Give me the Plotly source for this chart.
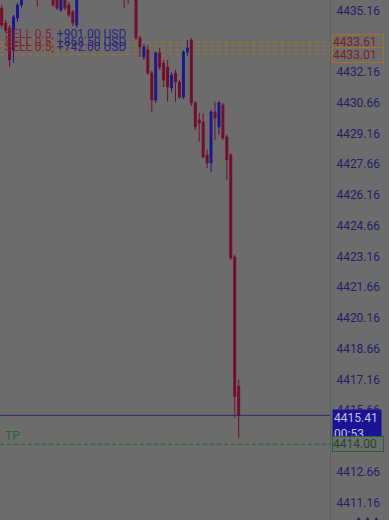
import plotly.graph_objects as go

# OHLC bars, oldest first. Bars that traded above the visible window are kept
# so the series stays continuous; the y range simply clips them.
opens = [4435.28, 4434.55, 4434.31, 4433.23, 4434.79, 4435.43, 4436.10, 4436.70, 4436.30, 4435.90,
         4435.75, 4436.40, 4436.80, 4436.10, 4435.80, 4435.18, 4435.85, 4435.43, 4435.09, 4434.45,
         4435.90, 4436.50, 4437.10, 4436.80, 4437.50, 4437.20, 4436.90, 4437.30, 4436.70, 4436.30,
         4436.60, 4436.20, 4435.95, 4435.75, 4436.20, 4433.82, 4432.89, 4433.23, 4432.11, 4430.79,
         4433.09, 4432.60, 4432.40, 4431.38, 4432.11, 4431.67, 4430.94, 4433.14, 4433.72, 4430.65,
         4429.82, 4429.72, 4428.11, 4427.72, 4430.21, 4429.48, 4430.55, 4428.99, 4428.11, 4423.14,
         4416.82]
highs = [4435.43, 4434.70, 4434.45, 4434.94, 4435.53, 4436.25, 4436.90, 4436.95, 4436.50, 4436.10,
         4436.55, 4437.00, 4436.90, 4436.20, 4435.95, 4436.00, 4436.00, 4435.57, 4435.18, 4436.10,
         4436.70, 4437.30, 4437.40, 4437.70, 4437.80, 4437.40, 4437.50, 4437.40, 4436.90, 4436.80,
         4436.70, 4436.30, 4436.10, 4436.30, 4436.30, 4433.92, 4433.53, 4433.48, 4432.21, 4433.18,
         4433.33, 4432.75, 4432.75, 4432.16, 4432.26, 4431.77, 4433.23, 4433.72, 4433.82, 4430.75,
         4430.16, 4430.16, 4428.36, 4430.31, 4430.70, 4430.75, 4430.65, 4429.09, 4428.21, 4423.23,
         4417.16]
lows = [4434.31, 4434.06, 4432.40, 4432.60, 4434.60, 4435.28, 4435.95, 4436.10, 4435.75, 4435.33,
        4435.70, 4436.20, 4435.90, 4435.33, 4435.18, 4435.09, 4435.18, 4434.84, 4434.40, 4434.31,
        4435.80, 4436.40, 4436.60, 4436.70, 4437.00, 4436.70, 4436.80, 4436.50, 4436.10, 4436.00,
        4435.90, 4435.28, 4435.48, 4435.72, 4433.72, 4432.89, 4432.75, 4432.01, 4430.21, 4430.65,
        4432.26, 4431.43, 4430.70, 4431.18, 4430.70, 4430.84, 4430.84, 4432.94, 4430.50, 4429.33,
        4428.75, 4427.97, 4427.48, 4427.28, 4428.84, 4429.09, 4428.84, 4426.89, 4422.99, 4415.28,
        4414.31]
closes = [4434.45, 4434.21, 4432.75, 4434.84, 4435.43, 4436.10, 4436.70, 4436.30, 4435.90, 4435.72,
          4436.40, 4436.80, 4436.10, 4435.43, 4435.28, 4435.85, 4435.28, 4434.94, 4434.55, 4435.90,
          4436.50, 4437.10, 4436.80, 4437.50, 4437.20, 4436.90, 4437.30, 4436.70, 4436.30, 4436.60,
          4436.20, 4435.85, 4435.75, 4436.20, 4433.82, 4433.38, 4433.38, 4432.11, 4430.79, 4433.09,
          4432.40, 4431.77, 4431.43, 4432.01, 4431.67, 4430.94, 4433.14, 4433.33, 4430.65, 4429.48,
          4429.67, 4428.01, 4427.72, 4430.21, 4429.92, 4430.65, 4428.94, 4427.87, 4423.09, 4416.33,
          4415.41]
bar_index = list(range(len(opens)))

# Open SELL positions: entry levels and their floating profit labels
position_prices = [4433.61, 4433.45, 4433.23, 4433.01]
position_labels = ["SELL 0.5,", "SELL 0.5,", "SELL 0.5,", "SELL 0.5,"]
position_profit = ["+901.00 USD", "", "+868.50 USD", "+742.00 USD"]
entry_tags = [4433.61, 4433.01]

take_profit = 4414.00
current_price = 4415.41
countdown = "00:53"

axis_ticks = [4435.16, 4432.16, 4430.66, 4429.16, 4427.66, 4426.16, 4424.66, 4423.16,
              4421.66, 4420.16, 4418.66, 4417.16, 4415.66, 4412.66, 4411.16]

# Palette
BG = "rgb(108,108,108)"
RED = "rgb(118,12,44)"
BLUE = "rgb(26,24,146)"
NAVY = "rgb(38,32,104)"
ORANGE = "rgb(166,112,36)"
GOLD = "rgb(150,124,48)"
GREEN = "rgb(34,104,52)"
FONT = "Roboto"

fig = go.Figure()
fig.add_trace(go.Candlestick(
    x=bar_index, open=opens, high=highs, low=lows, close=closes,
    increasing=dict(line=dict(color=BLUE, width=1), fillcolor=BLUE),
    decreasing=dict(line=dict(color=RED, width=1), fillcolor=RED),
    whiskerwidth=0, hoverinfo="skip", showlegend=False,
))

shapes = []
line_colors = [ORANGE, GOLD, GOLD, ORANGE]
for price, col in zip(position_prices, line_colors):
    shapes.append(dict(type="line", xref="paper", x0=0, x1=1, yref="y", y0=price, y1=price,
                       line=dict(color=col, width=1, dash="4px,3px"), layer="below"))
shapes.append(dict(type="line", xref="paper", x0=0, x1=1, yref="y", y0=current_price, y1=current_price,
                   line=dict(color="rgb(44,40,118)", width=1)))
shapes.append(dict(type="line", xref="paper", x0=0, x1=1, yref="y", y0=take_profit, y1=take_profit,
                   line=dict(color=GREEN, width=1, dash="4px,3px")))

annotations = []
for price, lab, prof in zip(position_prices, position_labels, position_profit):
    if not prof:
        continue
    annotations.append(dict(
        xref="paper", x=0, xanchor="left", xshift=4, yref="y", y=price, yanchor="bottom", yshift=0,
        text=f"<span style='color:rgb(136,34,44)'>{lab}</span> <span style='color:rgb(40,38,132)'>{prof}</span>",
        showarrow=False, font=dict(family=FONT, size=12), borderpad=0,
    ))

annotations.append(dict(xref="paper", x=0, xanchor="left", xshift=4, yref="y", y=take_profit,
                        yanchor="bottom", yshift=0, text="TP", showarrow=False,
                        font=dict(family=FONT, size=12, color=GREEN), borderpad=0))

for price in entry_tags:
    annotations.append(dict(xref="paper", x=1, xanchor="left", xshift=2, yref="y", y=price,
                            yanchor="middle", text=f"{price:.2f}", showarrow=False,
                            font=dict(family=FONT, size=12, color="rgb(128,30,40)"),
                            bgcolor=BG, bordercolor=ORANGE, borderwidth=1, borderpad=0,
                            width=50, align="left"))

annotations.append(dict(xref="paper", x=1, xanchor="left", xshift=2, yref="y", y=current_price,
                        yanchor="top", yshift=6, text=f"{current_price:.2f}<br>{countdown}",
                        showarrow=False, font=dict(family=FONT, size=12, color="rgb(196,196,214)"),
                        bgcolor="rgb(28,18,152)", borderpad=1, width=46, align="left"))

annotations.append(dict(xref="paper", x=1, xanchor="left", xshift=2, yref="y", y=take_profit,
                        yanchor="middle", text=f"{take_profit:.2f}", showarrow=False,
                        font=dict(family=FONT, size=12, color="rgb(36,72,44)"),
                        bgcolor=BG, bordercolor=GREEN, borderwidth=1, borderpad=0,
                        width=50, align="left"))

annotations.append(dict(xref="paper", x=1, xanchor="left", xshift=22, yref="paper", y=0,
                        yanchor="top", yshift=8, text="▲▲▲", showarrow=False,
                        font=dict(family=FONT, size=9, color=NAVY)))

fig.update_layout(
    width=389, height=520,
    margin=dict(l=0, r=59, t=0, b=0),
    paper_bgcolor=BG, plot_bgcolor=BG,
    shapes=shapes, annotations=annotations,
    xaxis=dict(range=[-0.43, 83.11], visible=False, rangeslider=dict(visible=False), fixedrange=True),
    yaxis=dict(range=[4410.307, 4435.672], side="right", tickvals=axis_ticks,
               ticktext=[f"{v:.2f}" for v in axis_ticks], showgrid=False, zeroline=False,
               ticks="", ticklabelstandoff=3, tickfont=dict(family=FONT, size=12, color=NAVY),
               showline=True, linecolor="rgb(94,94,94)", linewidth=1, fixedrange=True),
    font=dict(family=FONT),
)

fig.write_html("out.html", config={"displayModeBar": False})
